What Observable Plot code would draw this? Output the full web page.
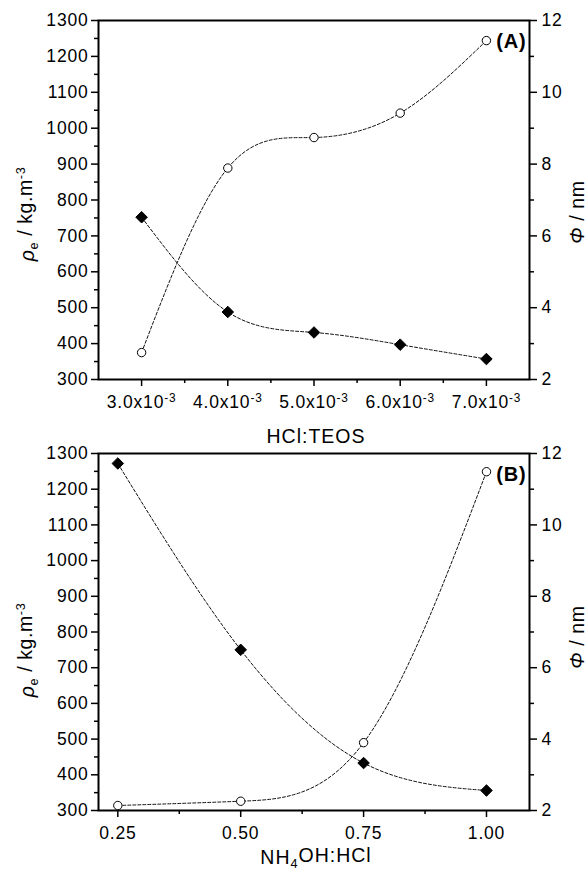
<!DOCTYPE html>
<html><head><meta charset="utf-8">
<script src="https://cdn.jsdelivr.net/npm/d3@7"></script>
<script src="https://cdn.jsdelivr.net/npm/@observablehq/plot@0.6"></script>
<style>
body{margin:0;background:#fff;}
#chart{width:587px;}
.panel{position:relative;width:587px;}
.panel svg{display:block;}
.panel svg.overlay{position:absolute;left:0;top:0;}
</style></head><body><div id="chart"></div>
<script>
// Panel A: HCl:TEOS
const xA = [0.003, 0.004, 0.005, 0.006, 0.007];
const rhoA = [752, 488, 431, 397, 357];
const phiA = [2.75, 7.89, 8.74, 9.42, 11.44];
// Panel B: NH4OH:HCl
const xB = [0.25, 0.50, 0.75, 1.00];
const rhoB = [1272, 750, 433, 356];
const phiB = [2.14, 2.26, 3.90, 11.49];
// ticks
const xTicksA = [0.003, 0.004, 0.005, 0.006, 0.007];
const xMinorA = [0.0035, 0.0045, 0.0055, 0.0065];
const xTicksB = [0.25, 0.50, 0.75, 1.00];
const xMinorB = [0.375, 0.625, 0.875];
const rhoTicks = [300, 400, 500, 600, 700, 800, 900, 1000, 1100, 1200, 1300];
const rhoMinor = [350, 450, 550, 650, 750, 850, 950, 1050, 1150, 1250];
const phiTicks = [2, 4, 6, 8, 10, 12];
const phiMinor = [3, 5, 7, 9, 11];

const FONT = "'Liberation Sans', Arial, sans-serif";

function makePanel(cfg) {
  const data = cfg.x.map((x, i) => ({x, rho: cfg.rho[i], phi: cfg.phi[i]}));
  const common = {
    width: 587, height: cfg.height,
    marginLeft: 98, marginRight: 58, marginTop: cfg.marginTop, marginBottom: cfg.marginBottom,
    style: {background: "transparent", fontFamily: FONT, fontSize: "17.5px", color: "#000", overflow: "visible", letterSpacing: "0.8px"}
  };
  const p1 = Plot.plot({
    ...common,
    x: {domain: cfg.xDomain},
    y: {domain: [300, 1300]},
    marks: [
      Plot.axisY(rhoTicks, {anchor: "left", tickSize: 7, tickPadding: 3, strokeWidth: 1.5, tickFormat: d => String(d), label: null}),
      Plot.axisY(rhoMinor, {anchor: "left", tickSize: 4, strokeWidth: 1.5, fill: "none", label: null}),
      Plot.axisX(cfg.xTicks, {anchor: "bottom", tickSize: 7, tickPadding: 9, strokeWidth: 1.5, tickFormat: cfg.xFmt, label: null}),
      Plot.axisX(cfg.xMinor, {anchor: "bottom", tickSize: 4, strokeWidth: 1.5, fill: "none", label: null}),
      Plot.line(data, {x: "x", y: "rho", curve: "natural", stroke: "#111", strokeWidth: 1, strokeDasharray: "3,2"}),
      Plot.dot(data, {x: "x", y: "rho", symbol: "diamond2", r: 5.2, fill: "#000", stroke: "#000", strokeWidth: 1}),
      Plot.text([cfg.tag], {frameAnchor: "top-right", dx: -3, dy: 27, text: d => d, fontWeight: "bold", fontSize: 20, textAnchor: "end", lineAnchor: "bottom"}),
      Plot.frame({stroke: "#000", strokeWidth: 2})
    ]
  });
  const p2 = Plot.plot({
    ...common,
    x: {domain: cfg.xDomain, axis: null},
    y: {domain: [2, 12]},
    marks: [
      Plot.axisY(phiTicks, {anchor: "right", tickSize: 7, tickPadding: 5, strokeWidth: 1.5, label: null}),
      Plot.axisY(phiMinor, {anchor: "right", tickSize: 4, strokeWidth: 1.5, fill: "none", label: null}),
      Plot.line(data, {x: "x", y: "phi", curve: "natural", stroke: "#111", strokeWidth: 1, strokeDasharray: "3,2"}),
      Plot.dot(data, {x: "x", y: "phi", symbol: "circle", r: 4.2, fill: "#fff", stroke: "#000", strokeWidth: 1})
    ]
  });
  p2.classList.add("overlay");

  // superscripts in tick labels
  d3.select(p1).selectAll('g[aria-label="x-axis tick label"] text').each(function() {
    const s = this.textContent; const i = s.indexOf("^");
    if (i < 0) return;
    const el = d3.select(this); el.text(null);
    el.append("tspan").text(s.slice(0, i));
    el.append("tspan").attr("dy", "-0.5em").attr("font-size", "0.68em").text(s.slice(i + 1));
  });

  const s1 = d3.select(p1);
  // left axis label
  const ll = s1.append("text").attr("transform", `translate(34,${cfg.leftY}) rotate(-90)`)
    .attr("text-anchor", "middle").attr("font-size", 19.5).attr("letter-spacing", "0.6px").attr("font-family", FONT);
  ll.append("tspan").attr("font-style", "italic").text("ρ");
  ll.append("tspan").attr("font-size", "0.65em").attr("dy", "0.35em").text("e");
  ll.append("tspan").attr("dy", "-0.35em").text(" / kg.m");
  ll.append("tspan").attr("font-size", "0.65em").attr("dy", "-0.55em").text("-3");
  // x label
  const xl = s1.append("text").attr("x", 316).attr("y", cfg.xLabelY).attr("text-anchor", "middle")
    .attr("font-size", 19.5).attr("letter-spacing", "1px").attr("font-family", FONT);
  let shifted = false;
  cfg.xLabel.forEach(([t, sub]) => {
    if (sub) { xl.append("tspan").attr("font-size", "0.65em").attr("dy", "0.3em").text(t); shifted = true; }
    else { xl.append("tspan").attr("dy", shifted ? "-0.3em" : null).text(t); shifted = false; }
  });
  // right axis label
  const rl = d3.select(p2).append("text").attr("transform", `translate(584,${cfg.rightY}) rotate(-90)`)
    .attr("text-anchor", "middle").attr("font-size", 19.5).attr("letter-spacing", "0.6px").attr("font-family", FONT);
  rl.append("tspan").attr("font-style", "italic").text("Φ");
  rl.append("tspan").text(" / nm");

  const div = document.createElement("div");
  div.className = "panel";
  div.append(p1, p2);
  return div;
}

const chart = document.getElementById("chart");
chart.append(makePanel({
  x: xA, rho: rhoA, phi: phiA, xDomain: [0.0025, 0.0075], xTicks: xTicksA, xMinor: xMinorA,
  xFmt: d => (d * 1000).toFixed(1) + "x10^-3",
  height: 445, marginTop: 20, marginBottom: 66, tag: "(A)",
  leftY: 214, rightY: 212, xLabelY: 443, xLabel: [["HCl:TEOS", false]]
}));
chart.append(makePanel({
  x: xB, rho: rhoB, phi: phiB, xDomain: [0.2107, 1.0875], xTicks: xTicksB, xMinor: xMinorB,
  xFmt: d => d.toFixed(2),
  height: 428, marginTop: 8, marginBottom: 63, tag: "(B)",
  leftY: 205, rightY: 192, xLabelY: 419, xLabel: [["NH", false], ["4", true], ["OH:HCl", false]]
}));
</script></body></html>
